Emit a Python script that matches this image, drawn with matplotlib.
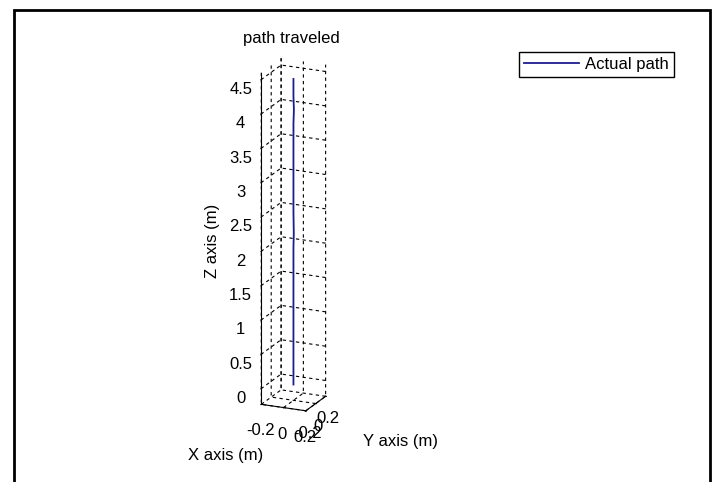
import matplotlib
matplotlib.use('Agg')
import matplotlib.pyplot as plt
from matplotlib.patches import Rectangle
from matplotlib.ticker import FormatStrFormatter

# measured path (m)
path_x = [0.0, 0.0, 0.0, 0.0, 0.0, 0.003, 0.0, 0.0, 0.0, 0.0, 0.004, 0.0, 0.0]
path_y = [0.0, 0.0, 0.0, 0.0, 0.0, 0.0, 0.0, 0.0, 0.0, 0.0, 0.0, 0.0, 0.0]
path_z = [0.0, 0.5, 1.0, 1.5, 2.0, 2.2, 2.5, 3.0, 3.5, 3.8, 4.0, 4.2, 4.45]

x_ticks = [-0.2, 0, 0.2]
y_ticks = [-0.2, 0, 0.2]
z_ticks = [0, 0.5, 1, 1.5, 2, 2.5, 3, 3.5, 4, 4.5]

plt.rcParams['font.family'] = ['Liberation Sans', 'DejaVu Sans']
plt.rcParams['axes.unicode_minus'] = False
plt.rcParams['grid.color'] = 'black'
plt.rcParams['grid.linestyle'] = (0, (3, 3))
plt.rcParams['grid.linewidth'] = 0.8

fig = plt.figure(figsize=(7.17, 4.82), dpi=100)
ax = fig.add_axes([-0.0098, 0.0, 0.82, 1.0], projection='3d')
ax.set_proj_type('ortho')
ax.view_init(elev=19, azim=-66)
ax.set_box_aspect((1, 1, 7.2), zoom=0.72)

ax.plot(path_x, path_y, path_z, color='#1c1c90', linewidth=1.3, label='Actual path')

ax.set_xlim(-0.2, 0.2)
ax.set_ylim(-0.2, 0.2)
ax.set_zlim(-0.23, 4.6)
ax.set_xticks(x_ticks)
ax.set_yticks(y_ticks)
ax.set_zticks(z_ticks)
for a in (ax.xaxis, ax.yaxis, ax.zaxis):
    a.set_major_formatter(FormatStrFormatter('%g'))
    a.pane.fill = False
    a.pane.set_edgecolor('none')
    a.line.set_color('black')
ax.tick_params(labelsize=12)
ax.tick_params(axis='z', pad=50)
ax.tick_params(axis='x', pad=2)
ax.tick_params(axis='y', pad=0)
ax.zaxis.set_ticks_position('lower')

fig.text(0.407, 0.91, 'path traveled', ha='center', fontsize=12)
fig.text(0.296, 0.50, 'Z axis (m)', rotation=90, ha='center', va='center', fontsize=12)
fig.text(0.315, 0.056, 'X axis (m)', ha='center', va='center', fontsize=12)
fig.text(0.559, 0.083, 'Y axis (m)', ha='center', va='center', fontsize=12)

fig.legend(loc='upper right', bbox_to_anchor=(0.94, 0.893), fancybox=False,
           edgecolor='black', framealpha=1, fontsize=12, handlelength=3.3,
           handletextpad=0.4, borderaxespad=0, borderpad=0.3)

fig.add_artist(Rectangle((14 / 717, -0.02), (710 - 14) / 717, 1 - 10 / 482 + 0.02,
                         transform=fig.transFigure, fill=False, edgecolor='black',
                         linewidth=2, clip_on=False))

fig.savefig('out.png', dpi=100)
